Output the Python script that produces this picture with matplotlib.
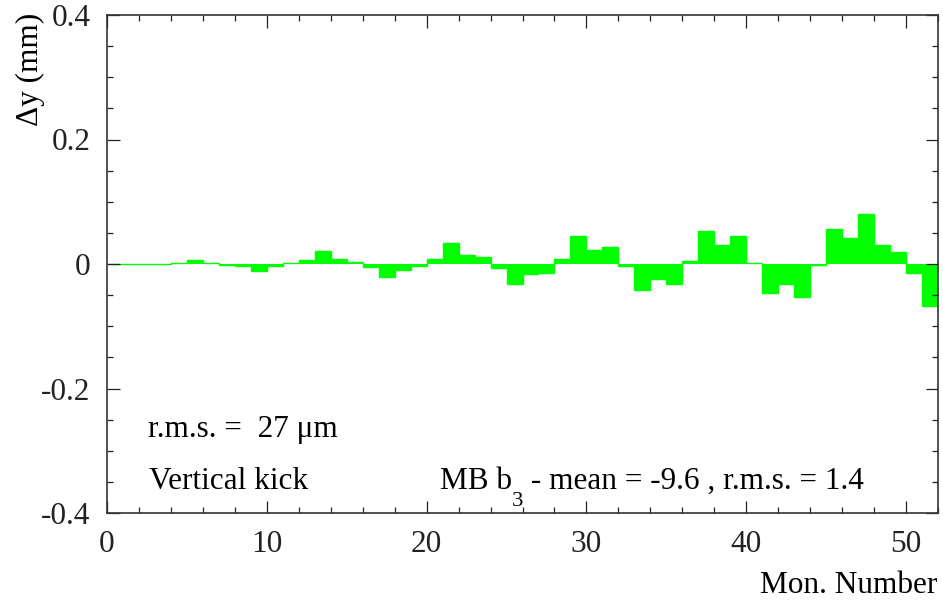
import numpy as np
import matplotlib
matplotlib.use("Agg")
import matplotlib.pyplot as plt
from matplotlib.ticker import MultipleLocator

plt.rcParams['font.family'] = ['Liberation Serif', 'DejaVu Serif']

# Orbit deviation per monitor (mm), one bin per monitor
monitor_edges = np.arange(0, 53)
delta_y = [
    0.000, 0.000, 0.000, 0.000, 0.002, 0.006, 0.002, -0.002, -0.004, -0.011,
    -0.003, 0.002, 0.006, 0.021, 0.008, 0.003, -0.005, -0.021, -0.009, -0.003,
    0.008, 0.034, 0.015, 0.011, -0.006, -0.032, -0.016, -0.015, 0.008, 0.045,
    0.023, 0.027, -0.004, -0.041, -0.024, -0.032, 0.005, 0.053, 0.031, 0.045,
    0.002, -0.047, -0.032, -0.053, -0.002, 0.056, 0.041, 0.081, 0.031, 0.020,
    -0.014, -0.067,
]
x_ticks = [0, 10, 20, 30, 40, 50]
y_ticks = [-0.4, -0.2, 0, 0.2, 0.4]
y_tick_labels = ['-0.4', '-0.2', '0', '0.2', '0.4']

FS = 22.5
W, H = 943, 601

fig = plt.figure(figsize=(W / 100, H / 100), dpi=100)
ax = fig.add_axes([107 / W, 1 - 513 / H, 831 / W, 498 / H])

green = '#00ff00'
ax.bar(monitor_edges[:-1], delta_y, width=1, align='edge', color=green, linewidth=0)
ax.stairs(delta_y, monitor_edges, color=green, linewidth=1.0, baseline=None)

ax.set_xlim(0, 52)
ax.set_ylim(-0.4, 0.4)
ax.set_xticks(x_ticks)
ax.set_xticklabels([str(v) for v in x_ticks])
ax.set_yticks(y_ticks)
ax.set_yticklabels(y_tick_labels)
ax.xaxis.set_minor_locator(MultipleLocator(2))
ax.yaxis.set_minor_locator(MultipleLocator(0.05))

ax.tick_params(which='both', direction='in', top=True, right=True,
               labelsize=FS, colors='#222222', width=0.9)
ax.tick_params(which='major', length=9)
ax.tick_params(which='minor', length=4.5)
ax.tick_params(axis='x', which='major', pad=12)
ax.tick_params(axis='y', which='major', pad=12)
for s in ax.spines.values():
    s.set_color('#333333')
    s.set_linewidth(1.2)


def px(x, y):
    """Figure-pixel position (from top-left) to figure fraction."""
    return x / W, 1 - y / H


fig.text(*px(30, 13), 'Δy (mm)', rotation=90, ha='center', va='top', fontsize=FS)
fig.text(*px(937, 593), 'Mon. Number', ha='right', va='baseline', fontsize=FS)

fig.text(*px(148, 437), 'r.m.s. =  27 μm', ha='left', va='baseline', fontsize=FS)
fig.text(*px(149, 489), 'Vertical kick', ha='left', va='baseline', fontsize=FS)

# Label with a lowered subscript, laid out piece by piece
renderer = fig.canvas.get_renderer()
t1 = fig.text(*px(440, 489), 'MB b', ha='left', va='baseline', fontsize=FS)
x_sub = t1.get_window_extent(renderer).x1
t2 = fig.text(x_sub / W, (H - 506) / H, '3', ha='left', va='baseline', fontsize=FS * 0.72)
x_rest = t2.get_window_extent(renderer).x1
fig.text(x_rest / W, 1 - 489 / H, ' - mean = -9.6 , r.m.s. = 1.4',
         ha='left', va='baseline', fontsize=FS)

fig.savefig('out.png', dpi=100)
